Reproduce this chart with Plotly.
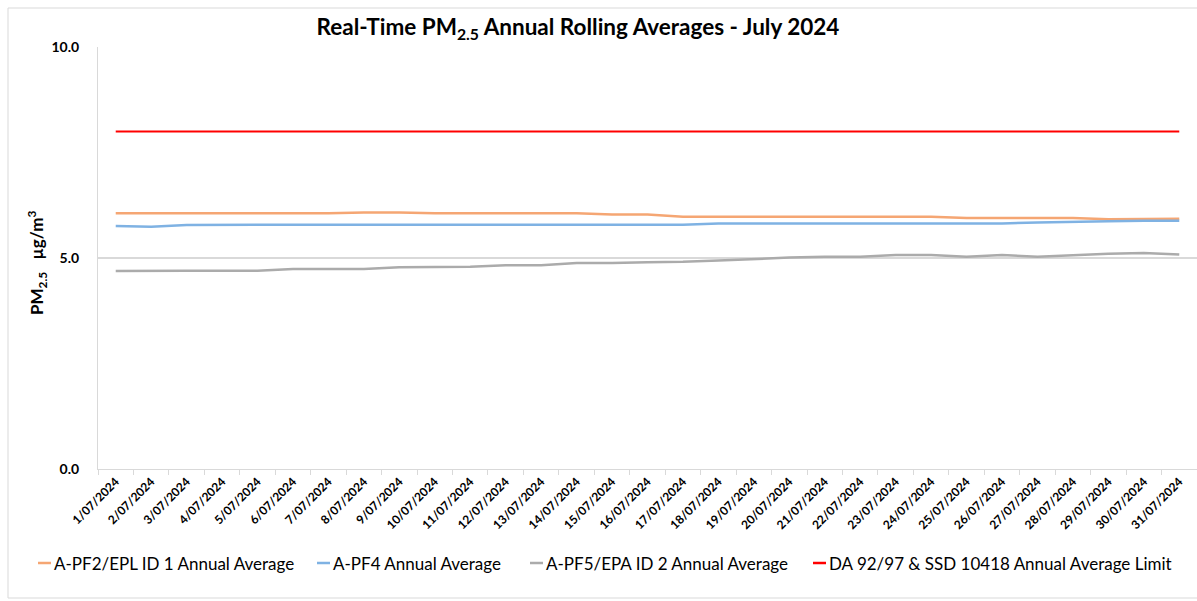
import plotly.graph_objects as go

dates = [f"{d}/07/2024" for d in range(1, 32)]

pf2 = [6.06, 6.06, 6.06, 6.06, 6.06, 6.06, 6.06, 6.08, 6.08, 6.06,
       6.06, 6.06, 6.06, 6.06, 6.03, 6.03, 5.98, 5.98, 5.98, 5.98,
       5.98, 5.98, 5.98, 5.98, 5.95, 5.95, 5.95, 5.95, 5.92, 5.92, 5.93]
pf4 = [5.76, 5.74, 5.78, 5.79, 5.79, 5.79, 5.79, 5.79, 5.79, 5.79,
       5.79, 5.79, 5.79, 5.79, 5.79, 5.79, 5.79, 5.82, 5.82, 5.82,
       5.82, 5.82, 5.82, 5.82, 5.82, 5.82, 5.84, 5.86, 5.87, 5.88, 5.88]
pf5 = [4.69, 4.70, 4.70, 4.70, 4.70, 4.74, 4.74, 4.74, 4.78, 4.78,
       4.79, 4.83, 4.83, 4.88, 4.88, 4.90, 4.91, 4.94, 4.98, 5.01,
       5.03, 5.03, 5.07, 5.07, 5.03, 5.07, 5.03, 5.07, 5.10, 5.12, 5.08]
limit = [8.0] * 31

series_names = [
    "A-PF2/EPL ID 1 Annual Average",
    "A-PF4 Annual Average",
    "A-PF5/EPA ID 2 Annual Average",
    "DA 92/97 & SSD 10418 Annual Average Limit",
]
series_values = [pf2, pf4, pf5, limit]
series_colors = ["#F5A673", "#7FB2E3", "#ABABAB", "#FF0000"]
series_widths = [2.5, 2.5, 2.5, 2.0]
y_ticks = [0, 5, 10]
y_tick_labels = ["0.0", "5.0", "10.0"]

FONT = "Lato"

fig = go.Figure()
for name, vals, col, w in zip(series_names, series_values, series_colors, series_widths):
    fig.add_trace(go.Scatter(x=dates, y=vals, mode="lines", name=name,
                             line=dict(color=col, width=w), showlegend=False))

# plot area: x 98..1197, y 47..469
L, R, T, B = 98, 0, 47, 132
W, H = 1197, 601
pw = W - L - R
ph = H - T - B

def px(x):
    return (x - L) / pw

def py(y):
    return (H - B - y) / ph

fig.update_layout(
    width=W, height=H,
    margin=dict(l=L, r=R, t=T, b=B, autoexpand=False),
    paper_bgcolor="white", plot_bgcolor="white",
    font=dict(family=FONT, color="#000000"),
    title=dict(text="<b>Real-Time PM<sub>2.5</sub> Annual Rolling Averages - July 2024</b>",
               x=px(578), xref="paper", xanchor="center",
               y=1 - 27 / H, yref="container", yanchor="middle",
               font=dict(size=22.5, family=FONT, color="#000000")),
    xaxis=dict(type="category", tickangle=-45, tickson="boundaries",
               ticks="outside", ticklen=5, tickcolor="#d9d9d9",
               showline=True, linecolor="#d9d9d9", linewidth=1,
               showgrid=False, tickfont=dict(size=12, family=FONT, weight="bold"),
               range=[-0.5, 30.5], automargin=False),
    yaxis=dict(range=[0, 10], tickvals=y_ticks, ticktext=y_tick_labels,
               showgrid=True, gridcolor="#d9d9d9", gridwidth=1.5,
               showline=True, linecolor="#d9d9d9", linewidth=1,
               zeroline=False, ticks="", ticklabelstandoff=15, automargin=False,
               tickfont=dict(size=14, family=FONT, weight="bold")),
)

# Y-axis title
fig.add_annotation(text="<b>PM<sub>2.5</sub>   µg/m<sup>3</sup></b>", textangle=-90,
                   x=px(22), y=py(263), xref="paper", yref="paper",
                   showarrow=False, font=dict(size=17, family=FONT, color="#000000"))

# outer chart frame
fig.add_shape(type="rect", xref="paper", yref="paper",
              x0=px(8), x1=px(1210), y0=py(598), y1=py(8),
              line=dict(color="#d9d9d9", width=1), layer="below")

# manual legend
legend_x = [38, 317, 530, 813]
legend_y = 563
for name, col, lx in zip(series_names, series_colors, legend_x):
    fig.add_shape(type="line", xref="paper", yref="paper",
                  x0=px(lx), x1=px(lx + 13), y0=py(legend_y), y1=py(legend_y),
                  line=dict(color=col, width=2.5))
    fig.add_annotation(text=name, x=px(lx + 14), y=py(legend_y),
                       xref="paper", yref="paper", xanchor="left", yanchor="middle",
                       showarrow=False, font=dict(size=17, family=FONT, color="#000000"))

fig.write_html("out.html", config={"displayModeBar": False},
               post_script="document.body.style.margin='0';")
